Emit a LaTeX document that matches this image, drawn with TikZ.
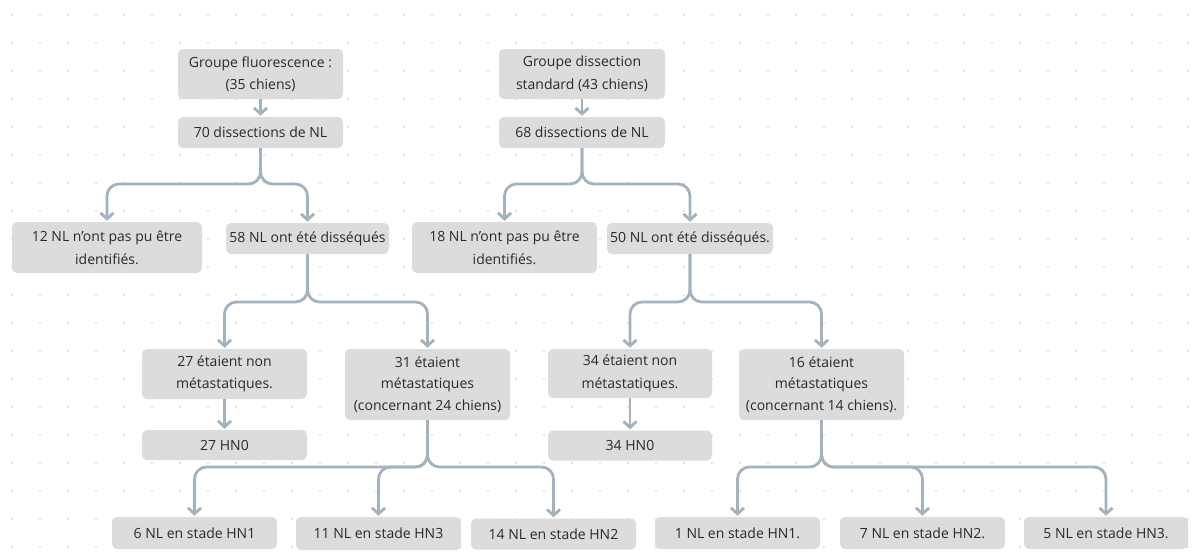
\documentclass[tikz,border=0pt]{standalone}
\usepackage{fontspec}
\setmainfont{Open Sans}
\usetikzlibrary{arrows.meta}
\definecolor{boxfill}{HTML}{DCDCDC}
\definecolor{conncol}{HTML}{A2B2BE}
\definecolor{txtcol}{HTML}{2A2A2A}
\definecolor{dotcol}{HTML}{E2E4E6}
\tikzset{
  x=1pt, y=-1pt,
  box/.style={fill=boxfill, rounded corners=5pt, text=txtcol, align=center,
    inner sep=0pt, font=\fontsize{14}{22.5}\selectfont},
  conn/.style={draw=conncol, line width=2.8pt, rounded corners=12pt,
    -{Straight Barb[length=6pt,width=13pt]}, shorten >=1pt},
}
\begin{document}
\begin{tikzpicture}
\useasboundingbox (0,0) rectangle (1202,552);
\fill[white] (0,0) rectangle (1202,552);
\foreach \i in {0,...,42}{\foreach \j in {0,...,19}{\fill[dotcol] (12+28*\i,15+28*\j) circle (1.4);}}
% left group
\node[box, minimum width=165pt, minimum height=50pt] (g1) at (260.5,74) {Groupe fluorescence :\\(35 chiens)};
\node[box, minimum width=165pt, minimum height=31pt] (d1) at (260.5,132.5) {70 dissections de NL};
\node[box, minimum width=190pt, minimum height=51pt] (n12) at (107,247.5) {12 NL n’ont pas pu être\\identifiés.};
\node[box, minimum width=163pt, minimum height=31pt] (n58) at (307.5,238.5) {58 NL ont été disséqués};
\node[box, minimum width=165pt, minimum height=50pt] (a27) at (224.5,374) {27 étaient non\\métastatiques.};
\node[box, minimum width=165pt, minimum height=71pt, font=\fontsize{14}{21.5}\selectfont] (a31) at (427.5,384.5) {31 étaient\\métastatiques\\(concernant 24 chiens)};
\node[box, minimum width=165pt, minimum height=30pt] (h27) at (224.5,445) {27 HN0};
\node[box, minimum width=165pt, minimum height=32pt] (s6) at (194.5,533) {6 NL en stade HN1};
\node[box, minimum width=165pt, minimum height=33pt] (s11) at (378.5,533.5) {11 NL en stade HN3};
\node[box, minimum width=165pt, minimum height=31pt] (s14) at (553.5,534) {14 NL en stade HN2};
% right group
\node[box, minimum width=166pt, minimum height=50pt] (g2) at (582,74) {Groupe dissection\\standard (43 chiens)};
\node[box, minimum width=166pt, minimum height=31pt] (d2) at (582,132.5) {68 dissections de NL};
\node[box, minimum width=185pt, minimum height=51pt] (n18) at (504.5,247.5) {18 NL n’ont pas pu être\\identifiés.};
\node[box, minimum width=166pt, minimum height=31pt] (n50) at (690,238.5) {50 NL ont été disséqués.};
\node[box, minimum width=164pt, minimum height=49pt] (b34) at (630,373.5) {34 étaient non\\métastatiques.};
\node[box, minimum width=165pt, minimum height=71pt, font=\fontsize{14}{21.5}\selectfont] (b16) at (821.5,384.5) {16 étaient\\métastatiques\\(concernant 14 chiens).};
\node[box, minimum width=164pt, minimum height=30pt] (h34) at (630,445.5) {34 HN0};
\node[box, minimum width=165pt, minimum height=32pt] (t1) at (737.5,533) {1 NL en stade HN1.};
\node[box, minimum width=165pt, minimum height=32pt] (t7) at (922.5,533) {7 NL en stade HN2.};
\node[box, minimum width=164pt, minimum height=32pt] (t5) at (1106,533) {5 NL en stade HN3.};
% fork levels
\coordinate (f1) at (0,184);
\coordinate (f2) at (0,302);
\coordinate (f3) at (0,467);
% connectors
\draw[conn] (g1) -- (d1);
\draw[conn] (g2) -- (d2);
\draw[conn] (d1.south) -- (d1.south |- f1) -| (n12.north);
\draw[conn] (d1.south) -- (d1.south |- f1) -| (n58.north);
\draw[conn] (d2.south) -- (d2.south |- f1) -| (n18.north);
\draw[conn] (d2.south) -- (d2.south |- f1) -| (n50.north);
\draw[conn] (n58.south) -- (n58.south |- f2) -| (a27.north);
\draw[conn] (n58.south) -- (n58.south |- f2) -| (a31.north);
\draw[conn] (n50.south) -- (n50.south |- f2) -| (b34.north);
\draw[conn] (n50.south) -- (n50.south |- f2) -| (b16.north);
\draw[conn] (a27) -- (h27);
\draw[conn] (b34) -- (h34);
\draw[conn] (a31.south) -- (a31.south |- f3) -| (s6.north);
\draw[conn] (a31.south) -- (a31.south |- f3) -| (s11.north);
\draw[conn] (a31.south) -- (a31.south |- f3) -| (s14.north);
\draw[conn] (b16.south) -- (b16.south |- f3) -| (t1.north);
\draw[conn] (b16.south) -- (b16.south |- f3) -| (t7.north);
\draw[conn] (b16.south) -- (b16.south |- f3) -| (t5.north);
\end{tikzpicture}
\end{document}
